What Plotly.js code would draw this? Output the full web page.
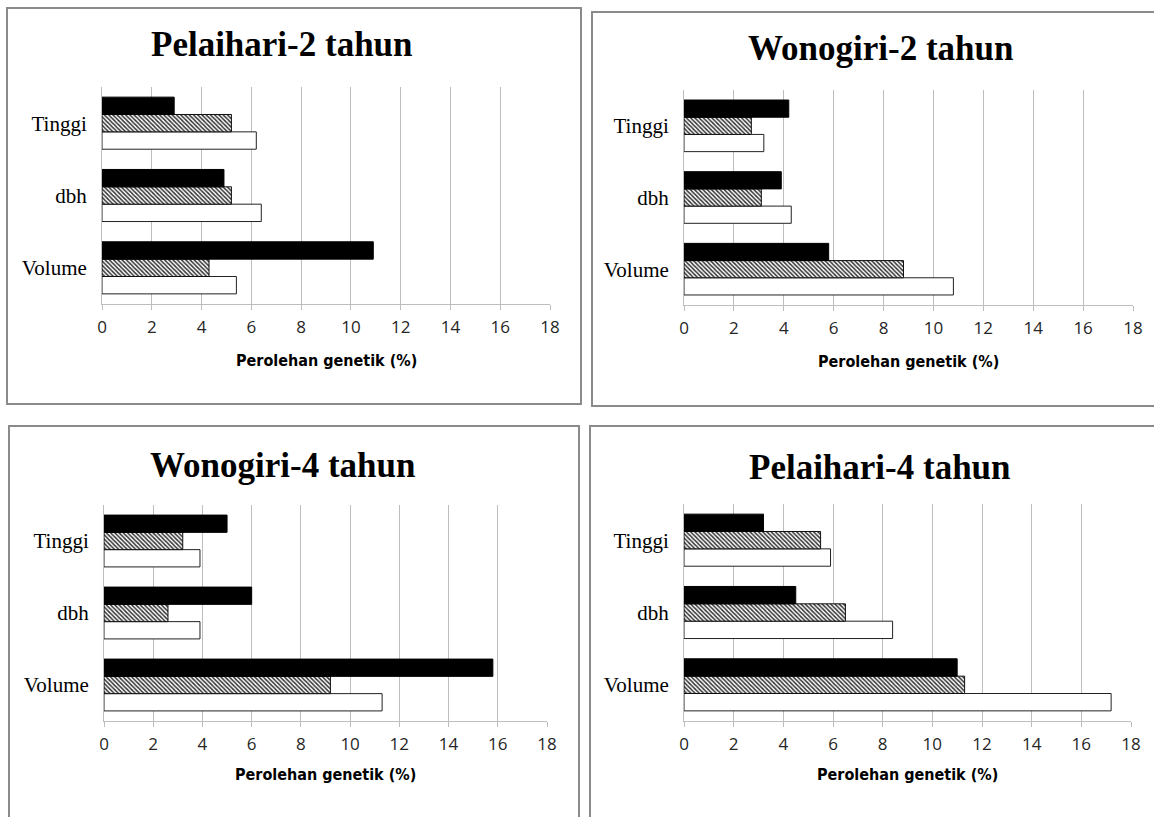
<!DOCTYPE html>
<html>
<head>
<meta charset="utf-8">
<script src="https://cdn.plot.ly/plotly-3.0.1.min.js"></script>
<style>html,body{margin:0;padding:0;background:#fff;}#chart{width:1154px;height:817px;}</style>
</head>
<body>
<div id="chart"></div>
<script>
// ---- data ----
const categories = ['Volume', 'dbh', 'Tinggi'];
const tickValues = [0, 2, 4, 6, 8, 10, 12, 14, 16, 18];
const tickLabels = ['0', '2', '4', '6', '8', '10', '12', '14', '16', '18'];
const panelTitles = ['Pelaihari-2 tahun', 'Wonogiri-2 tahun', 'Wonogiri-4 tahun', 'Pelaihari-4 tahun'];
const axisTitle = 'Perolehan genetik (%)';

// values in category order: Volume, dbh, Tinggi
const pelaihari2_black = [10.9, 4.9, 2.9];
const pelaihari2_hatch = [4.3, 5.2, 5.2];
const pelaihari2_white = [5.4, 6.4, 6.2];

const wonogiri2_black = [5.8, 3.9, 4.2];
const wonogiri2_hatch = [8.8, 3.1, 2.7];
const wonogiri2_white = [10.8, 4.3, 3.2];

const wonogiri4_black = [15.8, 6.0, 5.0];
const wonogiri4_hatch = [9.2, 2.6, 3.2];
const wonogiri4_white = [11.3, 3.9, 3.9];

const pelaihari4_black = [11.0, 4.5, 3.2];
const pelaihari4_hatch = [11.3, 6.5, 5.5];
const pelaihari4_white = [17.2, 8.4, 5.9];

// ---- layout helpers ----
const W = 1154, H = 817;
const px = v => v / W;
const py = v => 1 - v / H;

const panels = [
  {white: pelaihari2_white, hatch: pelaihari2_hatch, black: pelaihari2_black,
   plot: [102, 550, 87, 304], box: [7, 581, 8, 404], titleXY: [282, 45], axTitleY: 360},
  {white: wonogiri2_white, hatch: wonogiri2_hatch, black: wonogiri2_black,
   plot: [684, 1133, 90, 305], box: [592, 1170, 12, 406], titleXY: [880, 48], axTitleY: 361},
  {white: wonogiri4_white, hatch: wonogiri4_hatch, black: wonogiri4_black,
   plot: [104, 547, 505, 721], box: [9, 579, 426, 840], titleXY: [282, 465], axTitleY: 774},
  {white: pelaihari4_white, hatch: pelaihari4_hatch, black: pelaihari4_black,
   plot: [684, 1131, 504, 721], box: [590, 1170, 426, 840], titleXY: [880, 467], axTitleY: 774}
];

const traces = [];
const layout = {
  width: W, height: H,
  margin: {l: 0, r: 0, t: 0, b: 0},
  paper_bgcolor: '#fff', plot_bgcolor: 'rgba(0,0,0,0)',
  showlegend: false,
  barmode: 'group', bargap: 0.28, bargroupgap: 0,
  shapes: [], annotations: []
};

panels.forEach((p, i) => {
  const n = i === 0 ? '' : String(i + 1);
  const xa = 'x' + n, ya = 'y' + n;
  traces.push({
    type: 'bar', orientation: 'h', y: categories, x: p.white, xaxis: xa, yaxis: ya,
    marker: {color: '#ffffff', line: {color: '#222', width: 1}}, hoverinfo: 'x+y'
  });
  traces.push({
    type: 'bar', orientation: 'h', y: categories, x: p.hatch, xaxis: xa, yaxis: ya,
    marker: {color: '#ffffff', line: {color: '#111', width: 1},
             pattern: {shape: '\\', fgcolor: '#333', bgcolor: '#ffffff', size: 3, solidity: 0.5}},
    hoverinfo: 'x+y'
  });
  traces.push({
    type: 'bar', orientation: 'h', y: categories, x: p.black, xaxis: xa, yaxis: ya,
    marker: {color: '#000000', line: {color: '#000', width: 1}}, hoverinfo: 'x+y'
  });
  layout['xaxis' + n] = {
    domain: [px(p.plot[0]), px(p.plot[1])], anchor: ya,
    range: [0, 18], tickmode: 'array', tickvals: tickValues, ticktext: tickLabels,
    showgrid: true, gridcolor: '#bdbdbd', gridwidth: 1,
    zeroline: false, showline: true, linecolor: '#bdbdbd', linewidth: 1,
    ticks: 'outside', ticklen: 5, tickcolor: '#bdbdbd', ticklabelstandoff: 3,
    tickfont: {family: 'Open Sans, Noto Sans, sans-serif', size: 17, color: '#262626'},
    fixedrange: true
  };
  layout['yaxis' + n] = {
    domain: [py(p.plot[3]), py(p.plot[2])], anchor: xa,
    type: 'category', categoryorder: 'array', categoryarray: categories,
    range: [-0.5, 2.5],
    showgrid: false, zeroline: false, showline: true, linecolor: '#bdbdbd', linewidth: 1,
    ticks: '', ticklabelstandoff: 10,
    tickfont: {family: 'Liberation Serif, Times New Roman, serif', size: 21, color: '#000'},
    fixedrange: true
  };
  layout.shapes.push({
    type: 'rect', xref: 'paper', yref: 'paper',
    x0: px(p.box[0]), x1: px(p.box[1]), y0: py(p.box[3]), y1: py(p.box[2]),
    line: {color: '#8a8a8a', width: 2}, fillcolor: 'rgba(0,0,0,0)', layer: 'below'
  });
  layout.annotations.push({
    xref: 'paper', yref: 'paper', x: px(p.titleXY[0]), y: py(p.titleXY[1]),
    xanchor: 'center', yanchor: 'middle', showarrow: false,
    text: '<b>' + panelTitles[i] + '</b>',
    font: {family: 'Liberation Serif, Times New Roman, serif', size: 35, color: '#000'}
  });
  layout.annotations.push({
    xref: 'paper', yref: 'paper', x: px((p.plot[0] + p.plot[1]) / 2), y: py(p.axTitleY),
    xanchor: 'center', yanchor: 'middle', showarrow: false,
    text: '<b>' + axisTitle + '</b>',
    font: {family: 'DejaVu Sans Condensed, Liberation Sans Narrow, Open Sans, sans-serif', size: 16, color: '#000'}
  });
});

Plotly.newPlot('chart', traces, layout, {displayModeBar: false, staticPlot: true});
</script>
</body>
</html>
